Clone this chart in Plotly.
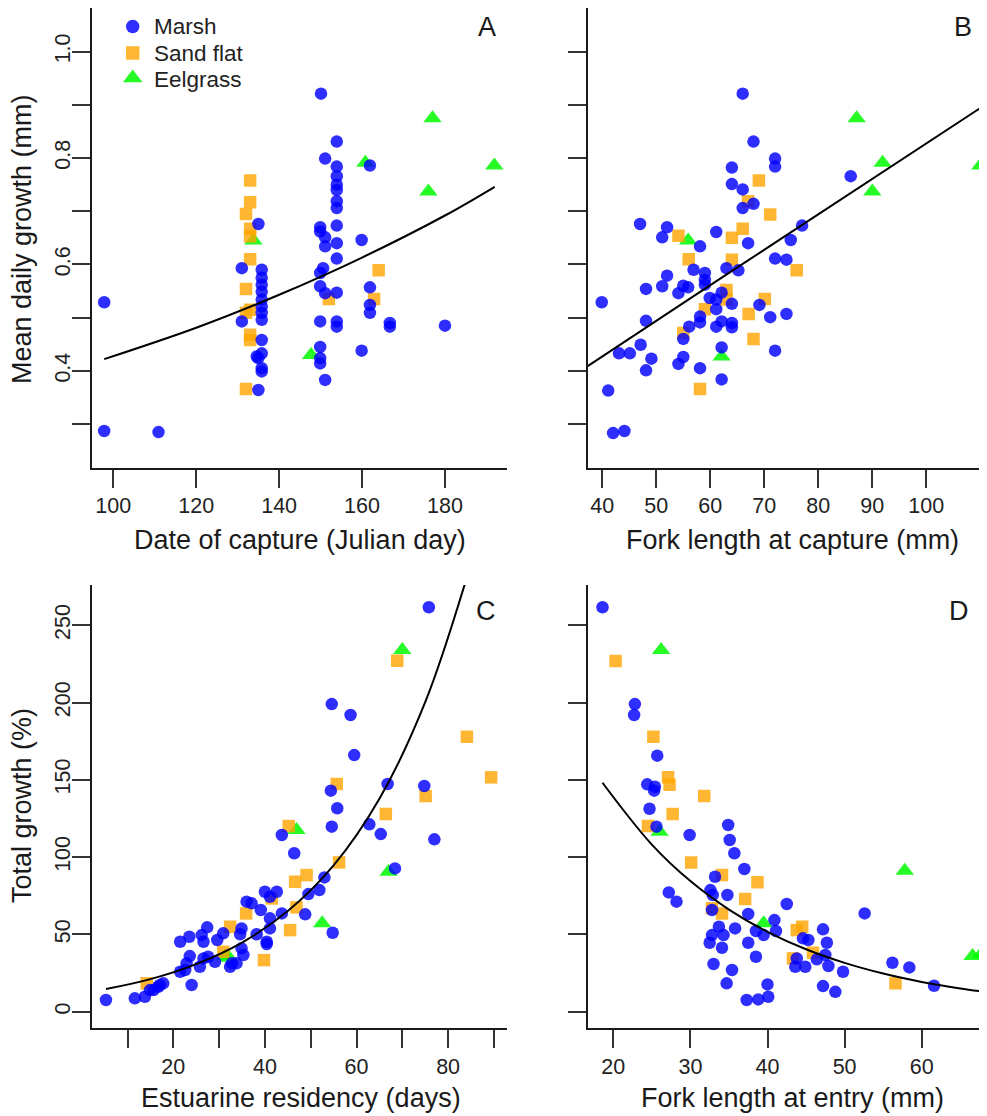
import plotly.graph_objects as go

# The page body has an 8px margin, so the figure is drawn 8px smaller and all
# layout positions (measured in reference pixels) are shifted by that offset.
OFF = 8
W, H = 987 - OFF, 1116 - OFF
FONT = "Liberation Sans, Arial, Helvetica, sans-serif"

# ---------------- Panel A: mean daily growth vs date of capture ----------------
a_marsh_x = [150.1, 153.9, 151.1, 153.9, 153.9, 153.9, 153.9, 153.9, 153.9, 161.9, 135.0, 149.9, 149.9, 151.1, 151.1,
             153.9, 153.9, 153.9, 159.9, 131.0, 135.8, 150.6,
             135.8, 135.8, 135.8, 135.8, 135.8, 135.8, 135.8, 135.8, 135.8, 135.0, 135.8, 135.8, 135.0, 134.6,
             131.0, 97.8, 97.8, 110.9,
             149.9, 149.9, 151.1, 149.9, 149.9, 149.9, 149.9, 151.1,
             153.9, 153.9, 153.9, 161.9, 161.9, 161.9, 166.7, 166.7, 180.0, 159.9]
a_marsh_y = [0.921, 0.831, 0.799, 0.784, 0.766, 0.750, 0.740, 0.719, 0.706, 0.786, 0.676, 0.670, 0.662, 0.651, 0.634,
             0.673, 0.640, 0.611, 0.646, 0.593, 0.590, 0.593,
             0.575, 0.562, 0.549, 0.534, 0.521, 0.509, 0.496, 0.458, 0.433, 0.424, 0.405, 0.399, 0.364, 0.427,
             0.493, 0.529, 0.287, 0.285,
             0.584, 0.559, 0.546, 0.493, 0.445, 0.424, 0.414, 0.383,
             0.547, 0.493, 0.483, 0.557, 0.524, 0.509, 0.490, 0.483, 0.485, 0.438]
a_sand_x = [133, 133, 132, 133, 133, 133, 164, 132, 133, 132, 152, 162.9, 133, 133, 132]
a_sand_y = [0.758, 0.717, 0.695, 0.667, 0.653, 0.610, 0.589, 0.554, 0.515, 0.509, 0.535, 0.535, 0.468, 0.458, 0.366]
a_eel_x = [177, 191.9, 176, 160.8, 133.8, 147.7]
a_eel_y = [0.875, 0.786, 0.737, 0.791, 0.645, 0.430]
a_fit_x = [97.8, 120, 140, 160, 180, 192]
a_fit_y = [0.422, 0.481, 0.543, 0.613, 0.692, 0.746]

# ---------------- Panel B: mean daily growth vs fork length at capture ----------------
b_marsh_x = [66, 68, 72, 72, 64, 64, 66, 66, 68, 86, 47, 52, 51.1, 61.1, 58.1, 67, 77, 74.9, 72, 74.1,
             56.9, 59, 63, 65.2, 52, 48.1, 51.1, 54.1, 55, 55.9, 59, 59, 39.9, 59.9, 61.1, 62.1, 61.1, 64,
             69.1, 71.1, 74.1, 48.1, 58.1, 58.1, 56.1, 62.1, 61.1, 64, 64, 55, 47.1, 62.1, 43.1, 45.1, 49.1,
             55, 54.1, 48.1, 58.1, 72, 62.1, 41.1, 42, 44.1]
b_marsh_y = [0.921, 0.831, 0.799, 0.784, 0.782, 0.751, 0.741, 0.706, 0.714, 0.766, 0.676, 0.670, 0.651, 0.661,
             0.634, 0.640, 0.673, 0.646, 0.611, 0.609,
             0.590, 0.584, 0.593, 0.589, 0.579, 0.554, 0.559, 0.546, 0.560, 0.557, 0.571, 0.562, 0.529, 0.537,
             0.534, 0.547, 0.516, 0.526,
             0.524, 0.501, 0.507, 0.494, 0.502, 0.491, 0.483, 0.493, 0.483, 0.490, 0.482, 0.460, 0.449, 0.444,
             0.433, 0.433, 0.423,
             0.426, 0.413, 0.401, 0.405, 0.438, 0.384, 0.363, 0.283, 0.287]
b_sand_x = [69, 67, 71.1, 66, 54.1, 64, 56, 64, 76, 63, 63, 59, 70.1, 67.1, 55, 68, 58.1]
b_sand_y = [0.758, 0.719, 0.694, 0.667, 0.654, 0.650, 0.610, 0.609, 0.589, 0.552, 0.534, 0.516, 0.535, 0.507,
            0.471, 0.460, 0.366]
b_eel_x = [87.1, 91.9, 90, 110, 55.9, 62.1]
b_eel_y = [0.875, 0.791, 0.737, 0.786, 0.645, 0.427]
b_fit_x = [37.3, 61.2, 111.2]
b_fit_y = [0.409, 0.569, 0.902]

# ---------------- Panel C: total growth vs estuarine residency ----------------
c_marsh_x = [75.8, 54.6, 58.7, 59.5, 66.8, 74.8, 54.4, 55.8, 54.6, 62.8, 65.3, 77.0, 43.7, 46.4, 68.4, 53.0,
             51.9, 49.5, 40.0, 42.6, 41.1, 36.0, 37.1, 39.1, 41.1, 43.7, 48.8, 41.1, 38.2, 34.9, 34.6, 30.9,
             27.4, 26.2, 26.6, 23.5, 21.5, 29.6, 40.4, 40.4, 34.9, 35.3, 23.6, 26.6, 29.1, 32.4, 32.8, 33.8,
             22.9, 22.6, 21.5, 25.8, 24.0, 17.8, 16.7, 14.9, 13.8, 11.6, 5.3, 27.6, 17.1, 15.7, 54.8]
c_marsh_y = [261.6, 199.0, 191.9, 166.0, 147.3, 146.0, 143.0, 131.6, 119.7, 121.2, 114.9, 111.5, 114.3, 102.5,
             92.7, 86.9,
             78.7, 76.1, 77.6, 77.6, 74.4, 71.2, 70.1, 65.8, 60.4, 63.6, 63.0, 53.9, 50.1, 53.9, 50.1, 50.7,
             54.6, 49.6, 45.3, 48.5, 45.3, 46.4, 45.3, 43.8, 41.0, 36.7, 36.0, 34.5, 32.3, 29.1, 31.3, 31.3,
             31.3, 27.0, 25.9, 29.1, 17.3, 18.4, 16.2, 14.0, 9.7, 8.7, 7.6, 35.6, 17.3, 14.0, 51.1]
c_sand_x = [68.9, 84.1, 89.4, 75.1, 55.7, 66.4, 45.2, 56.2, 49.1, 46.6, 41.5, 35.9, 46.9, 32.4, 45.5, 30.9,
            39.8, 14.2]
c_sand_y = [227.0, 177.9, 151.6, 139.5, 147.3, 127.9, 120.1, 96.6, 88.4, 84.1, 73.3, 63.6, 67.5, 55.0, 52.8,
            38.8, 33.4, 18.4]
c_eel_x = [70.0, 46.9, 67.0, 52.5, 31.3, 32.2]
c_eel_y = [234.0, 117.5, 90.6, 57.2, 36.0, 35.0]
c_fit_x = [5.3, 15, 25, 35, 45, 55, 65, 75, 84]
c_fit_y = [14.7, 21.1, 30.8, 44.7, 65.1, 94.6, 137.7, 200.2, 280.0]

# ---------------- Panel D: total growth vs fork length at entry ----------------
d_marsh_x = [18.6, 22.8, 22.7, 25.7, 24.4, 25.4, 25.3, 24.7, 25.6, 29.9, 34.9, 35.1, 35.7, 37.0, 33.2, 27.2,
             28.2, 32.6, 32.9, 32.8, 34.8, 37.5, 42.5, 40.9, 41.1, 35.8, 33.7, 34.3, 32.8, 32.5, 34.1, 37.5,
             38.5, 39.5, 38.5, 33.0, 35.4, 34.7, 40.0, 40.1, 37.3, 38.8, 44.6, 45.3, 43.8, 43.6, 44.9, 47.2,
             47.7, 46.4, 47.5, 47.9, 49.8, 47.2, 48.8, 52.6, 56.2, 58.4, 61.6]
d_marsh_y = [261.6, 199.0, 191.9, 165.6, 147.1, 145.5, 143.0, 131.3, 119.7, 114.3, 120.8, 111.1, 102.5, 92.3,
             87.3, 77.2,
             71.2, 78.7, 75.5, 65.8, 75.5, 63.2, 69.7, 59.3, 52.2, 53.9, 55.0, 49.6, 49.6, 44.6, 41.4, 44.6,
             52.2, 49.6, 35.6, 30.9, 27.0, 18.4, 17.7, 9.7, 7.6, 8.0, 47.5, 46.4, 34.5, 29.1, 29.1, 53.3,
             44.6, 33.9, 36.7, 29.6, 25.9, 16.6, 12.9, 63.6, 31.7, 28.7, 16.8]
d_sand_x = [20.3, 25.2, 27.1, 27.3, 31.8, 27.7, 24.5, 30.1, 34.1, 34.1, 38.7, 37.1, 43.8, 44.5, 45.9, 43.3,
            56.6, 32.8]
d_sand_y = [226.8, 177.9, 151.6, 146.8, 139.5, 127.9, 120.1, 96.6, 88.4, 63.6, 83.7, 72.9, 52.8, 55.0, 38.2,
            34.5, 18.4, 66.9]
d_eel_x = [26.2, 26.0, 57.8, 39.5, 66.6, 67.7]
d_eel_y = [234.0, 116.4, 91.2, 57.2, 36.0, 37.3]
d_fit_x = [18.6, 25, 30, 35, 40, 45, 50, 55, 60, 65, 68.5]
d_fit_y = [148.1, 108.1, 84.5, 66.1, 51.7, 40.4, 31.6, 24.7, 19.3, 15.1, 12.7]

# ---------------- axis ticks / labels ----------------
y_top_ticks = [0.3, 0.4, 0.5, 0.6, 0.7, 0.8, 0.9, 1.0]
y_top_labels = ["", "0.4", "", "0.6", "", "0.8", "", "1.0"]
y_bot_ticks = [0, 50, 100, 150, 200, 250]
y_bot_labels = ["0", "50", "100", "150", "200", "250"]
xa_ticks = [100, 120, 140, 160, 180]
xa_labels = ["100", "120", "140", "160", "180"]
xb_ticks = [40, 50, 60, 70, 80, 90, 100, 110]
xb_labels = ["40", "50", "60", "70", "80", "90", "100", ""]
xc_ticks = [10, 20, 30, 40, 50, 60, 70, 80, 90]
xc_labels = ["", "20", "", "40", "", "60", "", "80", ""]
xd_ticks = [20, 30, 40, 50, 60]
xd_labels = ["20", "30", "40", "50", "60"]

legend_labels = ["Marsh", "Sand flat", "Eelgrass"]

COL = {"Marsh": "rgba(0,0,255,0.82)", "Sand flat": "rgba(255,165,0,0.8)", "Eelgrass": "rgba(0,250,0,0.85)"}
SYM = {"Marsh": "circle", "Sand flat": "square", "Eelgrass": "triangle-up"}
SIZE = {"Marsh": 12.5, "Sand flat": 12.5, "Eelgrass": 16}

panels = [
    ("x", "y", {"Marsh": (a_marsh_x, a_marsh_y), "Sand flat": (a_sand_x, a_sand_y), "Eelgrass": (a_eel_x, a_eel_y)}, (a_fit_x, a_fit_y)),
    ("x2", "y2", {"Marsh": (b_marsh_x, b_marsh_y), "Sand flat": (b_sand_x, b_sand_y), "Eelgrass": (b_eel_x, b_eel_y)}, (b_fit_x, b_fit_y)),
    ("x3", "y3", {"Marsh": (c_marsh_x, c_marsh_y), "Sand flat": (c_sand_x, c_sand_y), "Eelgrass": (c_eel_x, c_eel_y)}, (c_fit_x, c_fit_y)),
    ("x4", "y4", {"Marsh": (d_marsh_x, d_marsh_y), "Sand flat": (d_sand_x, d_sand_y), "Eelgrass": (d_eel_x, d_eel_y)}, (d_fit_x, d_fit_y)),
]

fig = go.Figure()
for i, (xa, ya, groups, fit) in enumerate(panels):
    for h in ["Eelgrass", "Sand flat", "Marsh"]:
        xs, ys = groups[h]
        fig.add_trace(go.Scatter(
            x=xs, y=ys, mode="markers", name=h, xaxis=xa, yaxis=ya, showlegend=False,
            marker=dict(symbol=SYM[h], color=COL[h], size=SIZE[h], line=dict(width=0)),
        ))
    fig.add_trace(go.Scatter(
        x=fit[0], y=fit[1], mode="lines", xaxis=xa, yaxis=ya, showlegend=False,
        line=dict(color="black", width=2, shape="spline", smoothing=1.0),
    ))


def px_x(p):
    return (p - OFF) / W


def px_y(p):
    return 1 - (p - OFF) / H


# Legend drawn in an overlay axis measured in reference pixels (layout positions)
LEG_SYM_X = 132.7
LEG_TEXT_X = 152
LEG_Y0, LEG_DY = 26.5, 26.5
for k, lab in enumerate(legend_labels):
    fig.add_trace(go.Scatter(
        x=[LEG_SYM_X], y=[LEG_Y0 + k * LEG_DY - (1.5 if lab == "Eelgrass" else 0)], mode="markers",
        xaxis="x5", yaxis="y5", showlegend=False, hoverinfo="skip",
        marker=dict(symbol=SYM[lab], color=COL[lab], size=SIZE[lab] + 1, line=dict(width=0)),
    ))
    fig.add_annotation(text=lab, x=px_x(LEG_TEXT_X), y=px_y(LEG_Y0 + k * LEG_DY), xref="paper", yref="paper",
                       showarrow=False, xanchor="left", yanchor="middle",
                       font=dict(family=FONT, size=22.5, color="#222"))

TICKFONT = dict(family=FONT, size=21.5, color="#222")
common = dict(showline=True, linecolor="#1a1a1a", linewidth=1.6, ticks="outside", ticklen=18, tickwidth=1.8,
              tickcolor="#333", showgrid=False, zeroline=False, tickfont=TICKFONT, mirror=False, tickmode="array")

left_dom = [px_x(92), px_x(507)]
right_dom = [px_x(587.7), 1.0]
top_dom = [px_y(467.7), px_y(8)]
bot_dom = [px_y(1028.3), px_y(585)]

fig.update_layout(
    width=W, height=H, margin=dict(l=0, r=0, t=0, b=0),
    paper_bgcolor="white", plot_bgcolor="rgba(0,0,0,0)", showlegend=False,
    font=dict(family=FONT, color="#222"),
    xaxis=dict(domain=left_dom, range=[94.86, 194.96], anchor="y", tickvals=xa_ticks, ticktext=xa_labels,
               **common),
    yaxis=dict(domain=top_dom, range=[0.218, 1.082], anchor="x", tickvals=y_top_ticks, ticktext=y_top_labels,
               tickangle=-90, ticklabelstandoff=-6, **common),
    xaxis2=dict(domain=right_dom, range=[37.3, 111.24], anchor="y2", tickvals=xb_ticks, ticktext=xb_labels,
                **common),
    yaxis2=dict(domain=top_dom, range=[0.218, 1.082], anchor="x2", tickvals=y_top_ticks,
                ticktext=[""] * len(y_top_ticks), **common),
    xaxis3=dict(domain=left_dom, range=[2.25, 92.86], anchor="y3", tickvals=xc_ticks, ticktext=xc_labels,
                **common),
    yaxis3=dict(domain=bot_dom, range=[-10.7, 276], anchor="x3", tickvals=y_bot_ticks, ticktext=y_bot_labels,
                tickangle=-90, ticklabelstandoff=-6, **common),
    xaxis4=dict(domain=right_dom, range=[16.68, 68.47], anchor="y4", tickvals=xd_ticks, ticktext=xd_labels,
                **common),
    yaxis4=dict(domain=bot_dom, range=[-10.7, 276], anchor="x4", tickvals=y_bot_ticks,
                ticktext=[""] * len(y_bot_ticks), **common),
    xaxis5=dict(domain=[0, 1], range=[OFF, OFF + W], anchor="y5", visible=False, fixedrange=True),
    yaxis5=dict(domain=[0, 1], range=[OFF + H, OFF], anchor="x5", visible=False, fixedrange=True),
)

TITLE = dict(family=FONT, size=27, color="#1a1a1a")
ann = [
    ("Date of capture (Julian day)", 299.5, 540, 0),
    ("Fork length at capture (mm)", 792.5, 540, 0),
    ("Estuarine residency (days)", 301, 1098, 0),
    ("Fork length at entry (mm)", 792.5, 1098, 0),
    ("Mean daily growth (mm)", 22, 239, -90),
    ("Total growth (%)", 22, 806, -90),
    ("A", 486.7, 27, 0),
    ("B", 963.3, 27, 0),
    ("C", 486, 611, 0),
    ("D", 959.3, 611, 0),
]
for text, x, y, ang in ann:
    fig.add_annotation(text=text, x=px_x(x), y=px_y(y), xref="paper", yref="paper", showarrow=False,
                       xanchor="center", yanchor="middle", textangle=ang, font=TITLE)

fig.write_html("out.html")
